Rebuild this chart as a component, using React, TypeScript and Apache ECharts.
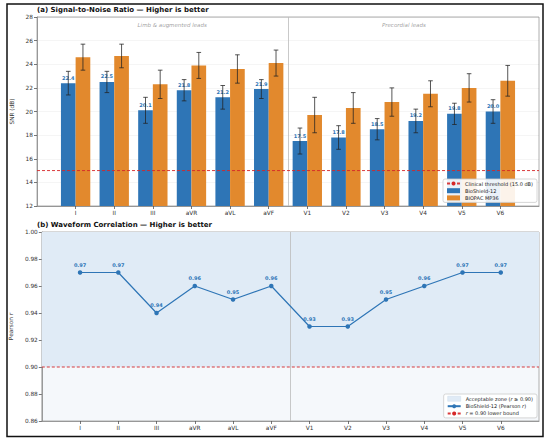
import React, { useEffect, useRef } from 'react';
import * as echarts from 'echarts';

const leads = ['I', 'II', 'III', 'aVR', 'aVL', 'aVF', 'V1', 'V2', 'V3', 'V4', 'V5', 'V6'];
const bioshieldSnr = [22.4, 22.5, 20.1, 21.8, 21.2, 21.9, 17.5, 17.8, 18.5, 19.2, 19.8, 20.0];
const bioshieldSnrStd = [1.0, 0.9, 1.1, 0.9, 1.0, 0.8, 1.1, 1.0, 0.9, 1.0, 0.9, 1.0];
const biopacSnr = [24.6, 24.7, 22.3, 23.9, 23.6, 24.1, 19.7, 20.3, 20.8, 21.5, 22.0, 22.6];
const biopacSnrStd = [1.1, 1.0, 1.2, 1.1, 1.2, 1.1, 1.5, 1.3, 1.2, 1.1, 1.2, 1.3];
const pearsonR = [0.97, 0.97, 0.94, 0.96, 0.95, 0.96, 0.93, 0.93, 0.95, 0.96, 0.97, 0.97];
const snrThreshold = 15.0;
const pearsonLowerBound = 0.9;
const groupNames = ['Limb & augmented leads', 'Precordial leads'];
const groupCenters = [2.5, 8.5];
const groupSeparator = 5.5;
const xSpan = [-1, 12];

const BLUE = '#2e75b6';
const ORANGE = '#e2892d';
const RED = '#d62728';
const ZONE = '#e0ebf6';
const FONT = 'DejaVu Sans';

const NAME_THR = 'Clinical threshold (15.0 dB)';
const NAME_BS = 'BioShield-12';
const NAME_BP = 'BIOPAC MP36';
const NAME_ZONE = 'Acceptable zone (r \u2265 0.90)';
const NAME_LINE = 'BioShield-12 (Pearson r)';
const NAME_LB = 'r = 0.90 lower bound';

const paddedCats = ['', ...leads, ''];

function errorBars(means: number[], stds: number[], side: number) {
  return {
    type: 'custom',
    xAxisIndex: 0,
    yAxisIndex: 0,
    z: 5,
    silent: true,
    data: means.map((m, i) => [i + 1, m - stds[i], m + stds[i]]),
    renderItem: (params: any, api: any) => {
      const bw = api.size([1, 0])[0];
      const off = side * bw * 0.19;
      const lo = api.coord([api.value(0), api.value(1)]);
      const hi = api.coord([api.value(0), api.value(2)]);
      const x = lo[0] + off;
      const c = 2.3;
      const st = { stroke: '#222', lineWidth: 0.9, opacity: 0.85 };
      return {
        type: 'group',
        children: [
          { type: 'line', shape: { x1: x, y1: lo[1], x2: x, y2: hi[1] }, style: st },
          { type: 'line', shape: { x1: x - c, y1: lo[1], x2: x + c, y2: lo[1] }, style: st },
          { type: 'line', shape: { x1: x - c, y1: hi[1], x2: x + c, y2: hi[1] }, style: st },
        ],
      };
    },
  };
}

function catAxis(gridIndex: number) {
  return {
    type: 'category',
    gridIndex,
    data: paddedCats,
    boundaryGap: false,
    axisLine: { show: true, onZero: false, lineStyle: { color: '#888', width: 0.8 } },
    axisTick: {
      show: true,
      length: 3,
      interval: (i: number) => i > 0 && i < paddedCats.length - 1,
      lineStyle: { color: '#555', width: 0.8 },
    },
    axisLabel: { interval: 0, fontSize: 5.8, color: '#333', margin: 4, fontFamily: FONT },
    splitLine: { show: false },
  };
}

function hiddenValAxis(gridIndex: number) {
  return { type: 'value', gridIndex, min: xSpan[0], max: xSpan[1], show: false, axisLine: { onZero: false } };
}

const legendRich = {
  n: { fontSize: 5, color: '#222', fontFamily: FONT },
  i: { fontSize: 5, color: '#222', fontFamily: FONT, fontStyle: 'italic' },
};

function legendFormatter(name: string) {
  if (name === NAME_ZONE) return '{n|Acceptable zone (}{i|r}{n| \u2265 0.90)}';
  if (name === NAME_LINE) return '{n|BioShield-12 (Pearson }{i|r}{n|)}';
  if (name === NAME_LB) return '{i|r}{n| = 0.90 lower bound}';
  return '{n|' + name + '}';
}

function refLine(name: string, xAxisIndex: number, yAxisIndex: number, value: number) {
  return {
    name,
    type: 'line',
    xAxisIndex,
    yAxisIndex,
    data: xSpan.map((x) => [x, value]),
    symbol: 'none',
    silent: true,
    z: 8,
    color: RED,
    itemStyle: { color: RED },
    lineStyle: { color: RED, type: [3, 2], width: 1, opacity: 0.9 },
  };
}

function vLine(value: number) {
  return {
    silent: true,
    symbol: 'none',
    label: { show: false },
    lineStyle: { color: '#bbb', type: 'solid', width: 0.8 },
    data: [{ xAxis: value }],
  };
}

function valueYAxis(gridIndex: number, extra: any) {
  return {
    type: 'value',
    gridIndex,
    nameLocation: 'middle',
    axisLine: { show: true, onZero: false, lineStyle: { color: '#888', width: 0.8 } },
    axisTick: { show: true, length: 3, lineStyle: { color: '#555', width: 0.8 } },
    ...extra,
  };
}

export default function App() {
  const ref = useRef<HTMLDivElement>(null);
  useEffect(() => {
    document.body.style.margin = '0';
    if (!ref.current) return;
    const chart = echarts.init(ref.current, undefined, { renderer: 'svg' });
    const legendCommon = {
      orient: 'vertical',
      right: 13,
      itemWidth: 13,
      itemHeight: 5,
      itemGap: 2.2,
      padding: [2, 4, 2, 3],
      borderColor: '#ccc',
      borderWidth: 0.8,
      borderRadius: 2,
      backgroundColor: 'rgba(255,255,255,0.9)',
      formatter: legendFormatter,
      textStyle: { fontSize: 5, color: '#222', rich: legendRich },
      selectedMode: false,
    };
    const option: any = {
      animation: false,
      backgroundColor: '#fff',
      textStyle: { fontFamily: FONT },
      title: [
        {
          text: '(a) Signal-to-Noise Ratio \u2014 Higher is better',
          left: 37,
          top: 6,
          padding: 0,
          textStyle: { fontSize: 7, fontWeight: 'bold', color: '#111', fontFamily: FONT },
        },
        {
          text: '(b) Waveform Correlation \u2014 Higher is better',
          left: 37,
          top: 221.5,
          padding: 0,
          textStyle: { fontSize: 7, fontWeight: 'bold', color: '#111', fontFamily: FONT },
        },
      ],
      graphic: [
        {
          type: 'rect',
          silent: true,
          shape: { x: 7, y: 4, width: 536, height: 432.5 },
          style: { fill: 'none', stroke: '#111', lineWidth: 1.5 },
          z: 100,
        },
      ],
      grid: [
        { left: 37, top: 17, width: 502, height: 189, show: true, backgroundColor: '#fff', borderColor: '#999', borderWidth: 0.8 },
        { left: 37, top: 232, width: 502, height: 189, show: true, backgroundColor: '#f5f8fb', borderColor: '#999', borderWidth: 0.8 },
      ],
      xAxis: [catAxis(0), hiddenValAxis(0), catAxis(1), hiddenValAxis(1)],
      yAxis: [
        valueYAxis(0, {
          min: 12,
          max: 28,
          interval: 2,
          name: 'SNR (dB)',
          nameGap: 17,
          nameTextStyle: { fontSize: 5.8, color: '#333', fontFamily: FONT },
          axisLabel: { fontSize: 5.8, color: '#333', margin: 4, fontFamily: FONT },
          splitLine: { show: true, lineStyle: { color: 'rgba(0,0,0,0.07)', width: 0.6 } },
        }),
        valueYAxis(1, {
          min: 0.86,
          max: 1.0,
          interval: 0.02,
          name: '{n|Pearson }{i|r}',
          nameGap: 22,
          nameTextStyle: {
            rich: {
              n: { fontSize: 5.8, color: '#333', fontFamily: FONT },
              i: { fontSize: 5.8, color: '#333', fontFamily: FONT, fontStyle: 'italic' },
            },
          },
          axisLabel: { fontSize: 5.8, color: '#333', margin: 4, fontFamily: FONT, formatter: (v: number) => v.toFixed(2) },
          splitLine: { show: false },
        }),
      ],
      legend: [
        {
          ...legendCommon,
          top: 179,
          data: [{ name: NAME_THR }, { name: NAME_BS, icon: 'rect' }, { name: NAME_BP, icon: 'rect' }],
        },
        {
          ...legendCommon,
          top: 394,
          data: [
            { name: NAME_ZONE, icon: 'rect', itemStyle: { color: ZONE, borderColor: '#cfdcea', borderWidth: 0.5 } },
            { name: NAME_LINE },
            { name: NAME_LB },
          ],
        },
      ],
      series: [
        {
          name: NAME_BS,
          type: 'bar',
          xAxisIndex: 0,
          yAxisIndex: 0,
          barWidth: '38%',
          barGap: '0%',
          itemStyle: { color: BLUE },
          data: bioshieldSnr.map((v, i) => [i + 1, v]),
          label: {
            show: true,
            position: 'top',
            distance: 3,
            fontSize: 5,
            fontWeight: 'bold',
            color: BLUE,
            fontFamily: FONT,
            formatter: (p: any) => p.value[1].toFixed(1),
          },
        },
        {
          name: NAME_BP,
          type: 'bar',
          xAxisIndex: 0,
          yAxisIndex: 0,
          barWidth: '38%',
          barGap: '0%',
          itemStyle: { color: ORANGE },
          data: biopacSnr.map((v, i) => [i + 1, v]),
        },
        errorBars(bioshieldSnr, bioshieldSnrStd, -1),
        errorBars(biopacSnr, biopacSnrStd, 1),
        refLine(NAME_THR, 1, 0, snrThreshold),
        {
          type: 'scatter',
          xAxisIndex: 1,
          yAxisIndex: 0,
          silent: true,
          symbolSize: 1,
          itemStyle: { color: 'rgba(0,0,0,0)' },
          data: groupCenters.map((c, i) => ({ value: [c, 27.35], name: groupNames[i] })),
          label: {
            show: true,
            position: 'inside',
            formatter: (p: any) => p.name,
            fontSize: 5.5,
            fontStyle: 'italic',
            color: '#888',
            fontFamily: FONT,
          },
          markLine: vLine(groupSeparator),
        },
        {
          name: NAME_ZONE,
          type: 'line',
          xAxisIndex: 3,
          yAxisIndex: 1,
          data: [],
          symbol: 'none',
          color: ZONE,
          itemStyle: { color: ZONE },
          markArea: {
            silent: true,
            itemStyle: { color: ZONE, opacity: 1 },
            data: [[{ xAxis: xSpan[0], yAxis: pearsonLowerBound }, { xAxis: xSpan[1], yAxis: 1.0 }]],
          },
          markLine: vLine(groupSeparator),
        },
        refLine(NAME_LB, 3, 1, pearsonLowerBound),
        {
          name: NAME_LINE,
          type: 'line',
          xAxisIndex: 2,
          yAxisIndex: 1,
          data: pearsonR.map((v, i) => [i + 1, v]),
          symbol: 'circle',
          symbolSize: 4.5,
          z: 6,
          lineStyle: { color: BLUE, width: 1.2 },
          itemStyle: { color: BLUE },
          label: {
            show: true,
            position: 'top',
            distance: 3,
            fontSize: 5,
            fontWeight: 'bold',
            color: BLUE,
            fontFamily: FONT,
            formatter: (p: any) => p.value[1].toFixed(2),
          },
        },
      ],
    };
    chart.setOption(option);
    return () => chart.dispose();
  }, []);
  return <div ref={ref} style={{ width: 550, height: 439 }} />;
}
